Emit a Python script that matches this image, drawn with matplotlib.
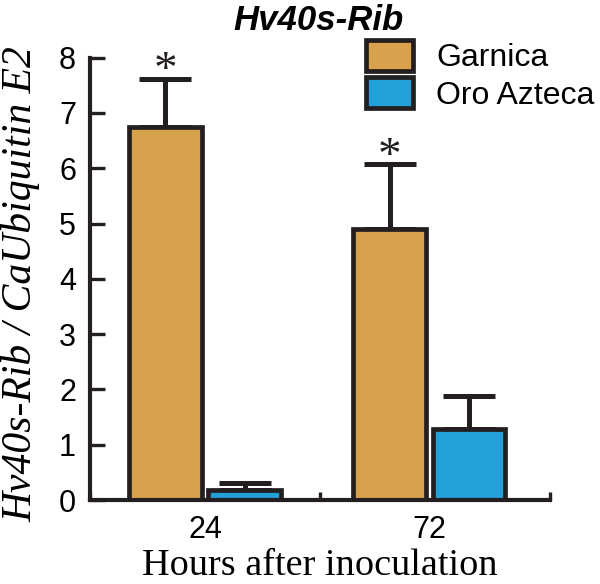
import matplotlib
matplotlib.use("Agg")
import matplotlib.pyplot as plt
from matplotlib.patches import Patch
import numpy as np

# Data
hours = ["24", "72"]
series = ["Garnica", "Oro Azteca"]
garnica = [6.75, 4.90]
garnica_err = [0.86, 1.17]
oro = [0.18, 1.28]
oro_err = [0.13, 0.60]
signif_garnica = [True, True]

col_g = "#D7A24B"
col_o = "#22A0D8"
edge = "#231F20"

fig = plt.figure(figsize=(6, 5.84), dpi=100)
ax = fig.add_axes([90/600, 1-500/584, 460/600, (500-57.6)/584])

centers = np.array([0.5, 1.475])
off = 0.172
w = 0.315

lw_edge = 3.4
ekw = dict(fmt="none", ecolor=edge, elinewidth=3.6, capsize=18.5, capthick=3.6, zorder=1)

for vals, errs, sign, col in [(garnica, garnica_err, -1, col_g), (oro, oro_err, 1, col_o)]:
    xs = centers + sign*off
    ax.bar(xs, vals, width=w, color=col, edgecolor=edge, linewidth=lw_edge, zorder=2)
    ax.errorbar(xs, vals, yerr=[np.zeros(len(vals)), errs], **ekw)

for i, s in enumerate(signif_garnica):
    if s:
        ax.annotate("*", (centers[i]-off, garnica[i]+garnica_err[i]), xytext=(0, 5),
                    textcoords="offset points", ha="center", va="center",
                    fontsize=34, family="Liberation Serif", color=edge)

ax.set_xlim(0, 2)
ax.set_ylim(0, 8)
for s in ["top", "right"]:
    ax.spines[s].set_visible(False)
for s in ["left", "bottom"]:
    ax.spines[s].set_linewidth(3.0)
    ax.spines[s].set_color(edge)

ax.set_yticks(range(0, 9))
ax.set_yticklabels([str(v) for v in range(0, 9)], fontsize=22, family="Liberation Sans")
ax.tick_params(axis="y", direction="in", length=11, width=2.4, color=edge, pad=10)
ax.set_xticks(centers)
ax.set_xticklabels(hours, fontsize=22, family="Liberation Sans")
ax.tick_params(axis="x", which="major", length=0, pad=11)
ax.set_xticks([0, 1, 2], minor=True)
ax.tick_params(axis="x", which="minor", direction="in", length=6, width=2.4, color=edge)

fig.text(319/600, 1-30/584, "Hv40s-Rib", ha="center", va="baseline",
         fontsize=25, fontweight="bold", style="italic", family="Liberation Sans")
fig.text(0.002, 1-284/584, "Hv40s-Rib / CaUbiquitin E2", rotation=90, ha="left",
         va="center", fontsize=30, style="italic", family="Liberation Serif")
fig.text(320/600, 1-575/584, "Hours after inoculation", ha="center", va="baseline",
         fontsize=27.5, family="Liberation Serif")

handles = [Patch(facecolor=col_g, edgecolor=edge, linewidth=lw_edge),
           Patch(facecolor=col_o, edgecolor=edge, linewidth=lw_edge)]
leg = ax.legend(handles, series, loc="upper left", bbox_to_anchor=(0.600, 1.040),
                frameon=False, prop={"family": "Liberation Sans", "size": 23},
                handlelength=1.47, handleheight=1.12, handletextpad=0.72,
                labelspacing=0.12, borderpad=0, borderaxespad=0)

fig.savefig("out.png", dpi=100)
